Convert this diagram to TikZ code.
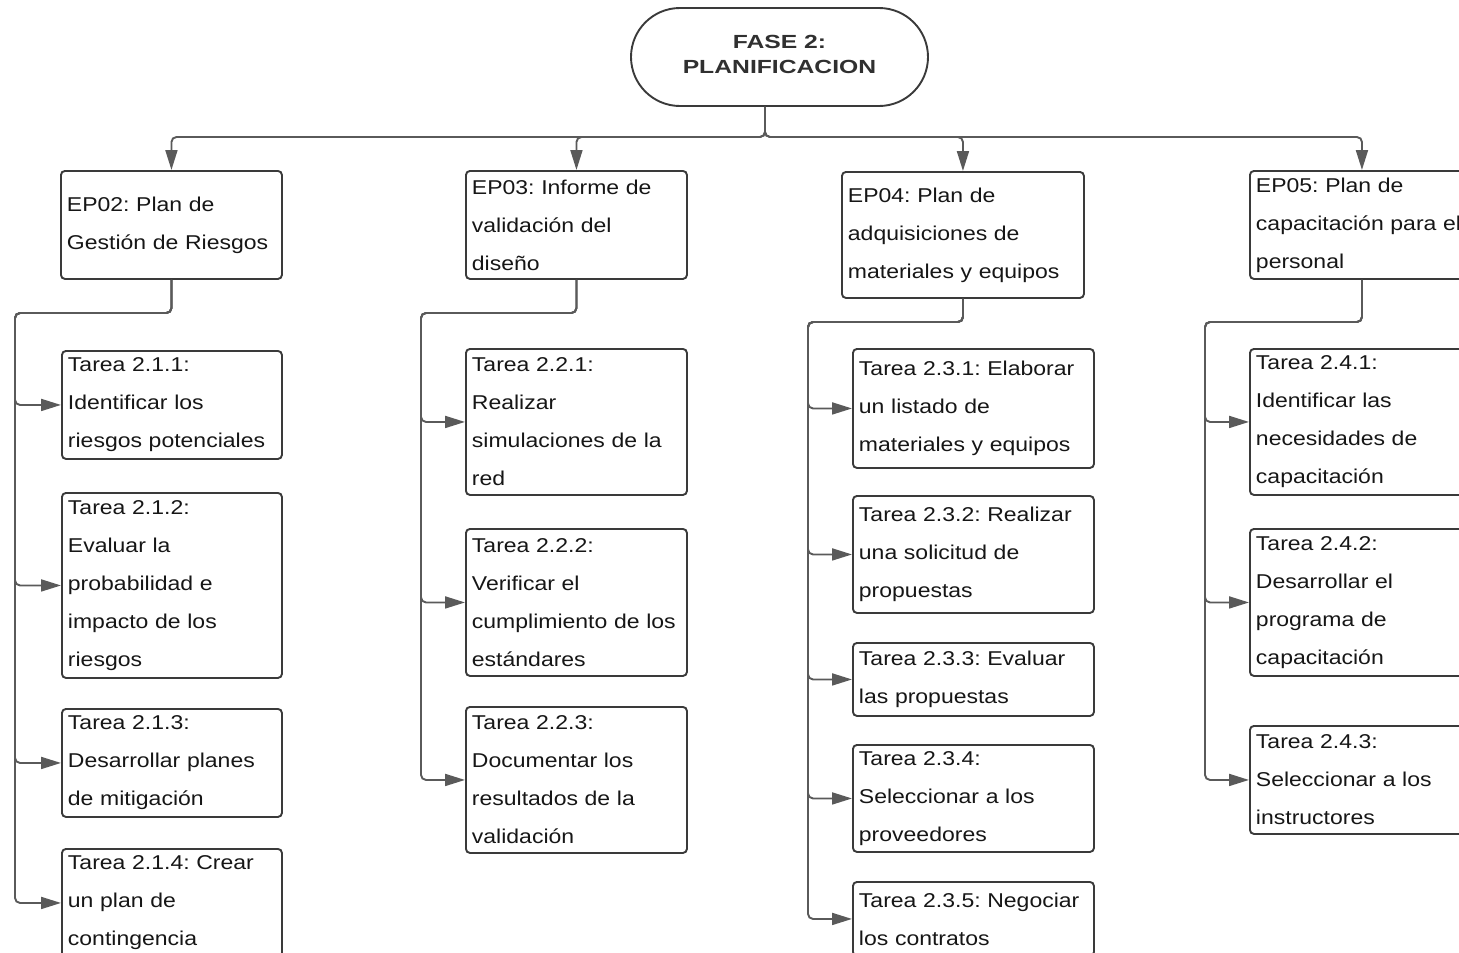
\documentclass[tikz,border=0pt]{standalone}
\usepackage{fontspec}
\usetikzlibrary{arrows.meta}
\newfontfamily\bxfont[FakeStretch=1.15]{Liberation Sans}
\newfontfamily\rtfont[FakeStretch=1.3]{Liberation Sans}
\frenchspacing
\definecolor{boxc}{HTML}{3A3A3A}
\definecolor{conc}{HTML}{5A5A5A}
\definecolor{txt}{HTML}{161616}
\definecolor{rtxt}{HTML}{303030}
\tikzset{
  bx/.style={draw=boxc, line width=1.9pt, rounded corners=4pt, anchor=north west,
    align=left, inner xsep=6pt, inner ysep=0pt, text=txt,
    font=\bxfont\frenchspacing\fontsize{20}{38}\selectfont},
  rootbox/.style={draw=boxc, line width=1.9pt, rounded corners=49pt,
    minimum width=297pt, minimum height=98pt, align=center, text=rtxt,
    text depth=5pt,
    font=\rtfont\bfseries\fontsize{19}{25}\selectfont},
  conn/.style={draw=conc, line width=1.9pt, rounded corners=5pt,
    -{Triangle[length=20pt,width=12pt]}},
}
\begin{document}
\begin{tikzpicture}[x=1pt,y=-1pt]
\useasboundingbox (0,0) rectangle (1459,953);
\clip (0,0) rectangle (1459,953);

% root
\node[rootbox] (root) at (779.5,57) {FASE 2:\\PLANIFICACION};

% level 1
\node[bx, minimum width=221pt, minimum height=108pt, text width=209pt] (ep02) at (60,170) {EP02: Plan de\\Gestión de Riesgos};
\node[bx, minimum width=221pt, minimum height=108pt, text width=209pt] (ep03) at (465,170) {EP03: Informe de\\validación del\\diseño};
\node[bx, minimum width=242pt, minimum height=126pt, text width=230pt] (ep04) at (841,171) {EP04: Plan de\\adquisiciones de\\materiales y equipos};
\node[bx, minimum width=224pt, minimum height=108pt, text width=212pt] (ep05) at (1249,170) {EP05: Plan de\\capacitación para el\\personal};

% EP02 tasks
\node[bx, minimum width=220pt, minimum height=108pt, text width=208pt] (t211) at (61,350) {Tarea 2.1.1:\\Identificar los\\riesgos potenciales};
\node[bx, minimum width=220pt, minimum height=185pt, text width=208pt] (t212) at (61,492) {Tarea 2.1.2:\\Evaluar la\\probabilidad e\\impacto de los\\riesgos};
\node[bx, minimum width=220pt, minimum height=108pt, text width=208pt] (t213) at (61,708) {Tarea 2.1.3:\\Desarrollar planes\\de mitigación};
\node[bx, minimum width=220pt, minimum height=108pt, text width=208pt] (t214) at (61,848) {Tarea 2.1.4: Crear\\un plan de\\contingencia};

% EP03 tasks
\node[bx, minimum width=221pt, minimum height=146pt, text width=209pt] (t221) at (465,348) {Tarea 2.2.1:\\Realizar\\simulaciones de la\\red};
\node[bx, minimum width=221pt, minimum height=147pt, text width=209pt] (t222) at (465,528) {Tarea 2.2.2:\\Verificar el\\cumplimiento de los\\estándares};
\node[bx, minimum width=221pt, minimum height=146pt, text width=209pt] (t223) at (465,706) {Tarea 2.2.3:\\Documentar los\\resultados de la\\validación};

% EP04 tasks
\node[bx, minimum width=241pt, minimum height=119pt, text width=229pt] (t231) at (852,348) {Tarea 2.3.1: Elaborar\\un listado de\\materiales y equipos};
\node[bx, minimum width=241pt, minimum height=117pt, text width=229pt] (t232) at (852,495) {Tarea 2.3.2: Realizar\\una solicitud de\\propuestas};
\node[bx, minimum width=241pt, minimum height=73pt, text width=229pt] (t233) at (852,642) {Tarea 2.3.3: Evaluar\\las propuestas};
\node[bx, minimum width=241pt, minimum height=107pt, text width=229pt] (t234) at (852,744) {Tarea 2.3.4:\\Seleccionar a los\\proveedores};
\node[bx, minimum width=241pt, minimum height=74pt, text width=229pt] (t235) at (852,881) {Tarea 2.3.5: Negociar\\los contratos};

% EP05 tasks
\node[bx, minimum width=224pt, minimum height=146pt, text width=212pt] (t241) at (1249,348) {Tarea 2.4.1:\\Identificar las\\necesidades de\\capacitación};
\node[bx, minimum width=224pt, minimum height=147pt, text width=212pt] (t242) at (1249,528) {Tarea 2.4.2:\\Desarrollar el\\programa de\\capacitación};
\node[bx, minimum width=224pt, minimum height=108pt, text width=212pt] (t243) at (1249,725) {Tarea 2.4.3:\\Seleccionar a los\\instructores};

% top connectors
\coordinate (r0) at ([xshift=-14.5pt]root.south);
\coordinate (hub) at (765,137);
\foreach \e in {ep02,ep03,ep04,ep05}
  \draw[conn] (r0) -- (hub) -| (\e.north);

% branch connectors
\coordinate (j02) at (15,313);
\coordinate (j03) at (421,313);
\coordinate (j04) at (808,322);
\coordinate (j05) at (1205,322);
\foreach \t in {t211,t212,t213,t214}
  \draw[conn] (ep02.south) |- (j02) |- (\t.west);
\foreach \t in {t221,t222,t223}
  \draw[conn] (ep03.south) |- (j03) |- (\t.west);
\foreach \t in {t231,t232,t233,t234,t235}
  \draw[conn] (ep04.south) |- (j04) |- (\t.west);
\foreach \t in {t241,t242,t243}
  \draw[conn] (ep05.south) |- (j05) |- (\t.west);
\end{tikzpicture}
\end{document}
